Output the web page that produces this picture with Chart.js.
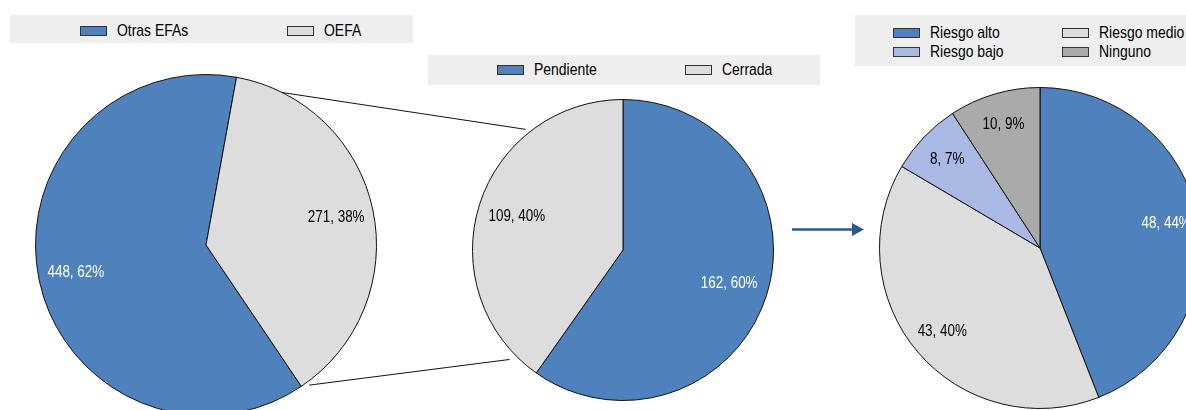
<!DOCTYPE html>
<html>
<head>
<meta charset="utf-8">
<script src="https://cdn.jsdelivr.net/npm/chart.js@4/dist/chart.umd.min.js"></script>
<style>
    body { margin: 0; width: 1186px; height: 410px; overflow: hidden; background: #fff; position: relative;
           font-family: "Liberation Sans Narrow", "Arial Narrow", "Liberation Sans", sans-serif; }
    canvas { position: absolute; }
    .legend { position: absolute; background: #eeeeee; }
    .sw { position: absolute; width: 25px; height: 8px; border: 1px solid #333; }
    .txt { position: absolute; font-size: 17px; line-height: 18px; color: #000; white-space: nowrap;
           transform: scaleX(0.82); transform-origin: left center; }
</style>
</head>
<body>
<canvas id="efaChart" width="342" height="342" style="left:35px;top:74px"></canvas>
<canvas id="oefaChart" width="302" height="302" style="left:472px;top:99px"></canvas>
<canvas id="riesgoChart" width="322" height="322" style="left:879px;top:87px"></canvas>
<canvas id="overlay" width="1186" height="410" style="left:0;top:0;pointer-events:none"></canvas>

<script>
// Data
const efaLabels = ['Otras EFAs', 'OEFA'];
const efaValues = [448, 271];
const efaPct = [62, 38];

const oefaLabels = ['Pendiente', 'Cerrada'];
const oefaValues = [162, 109];
const oefaPct = [60, 40];

const riesgoLabels = ['Riesgo alto', 'Riesgo medio', 'Riesgo bajo', 'Ninguno'];
const riesgoValues = [48, 43, 8, 10];
const riesgoPct = [44, 40, 7, 9];

const BLUE = '#4f81bd';
const LIGHT = '#dddddd';
const LIGHTBLUE = '#a9b9e3';
const DARK = '#aaaaaa';
const FONT = '"Liberation Sans Narrow", "Arial Narrow", "Liberation Sans", sans-serif';

// draws "value, pct%" inside each slice (squeezed to look like a narrow font)
const sliceLabels = {
    id: 'sliceLabels',
    afterDatasetsDraw(chart, args, opts) {
        const ctx = chart.ctx;
        const meta = chart.getDatasetMeta(0);
        const data = chart.data.datasets[0].data;
        ctx.font = '16px ' + FONT;
        ctx.textAlign = 'center';
        ctx.textBaseline = 'middle';
        meta.data.forEach((arc, i) => {
            const mid = (arc.startAngle + arc.endAngle) / 2;
            const d = arc.outerRadius * opts.radius;
            ctx.save();
            ctx.translate(arc.x + Math.cos(mid) * d, arc.y + Math.sin(mid) * d);
            ctx.scale(0.84, 1);
            ctx.fillStyle = opts.colors[i];
            ctx.fillText(data[i] + ', ' + opts.pct[i] + '%', 0, 0);
            ctx.restore();
        });
    }
};

function makePie(id, labels, values, colors, rotation, pct, textColors, radius) {
    return new Chart(document.getElementById(id), {
        type: 'pie',
        data: {
            labels: labels,
            datasets: [{
                data: values,
                backgroundColor: colors,
                borderColor: '#111',
                borderWidth: 1
            }]
        },
        options: {
            responsive: false,
            animation: false,
            rotation: rotation,
            layout: { padding: 0 },
            plugins: {
                legend: { display: false },
                tooltip: { enabled: false },
                sliceLabels: { pct: pct, colors: textColors, radius: radius }
            }
        },
        plugins: [sliceLabels]
    });
}

const efaChart = makePie('efaChart', efaLabels, efaValues, [BLUE, LIGHT], 146, efaPct, ['#fff', '#000'], 0.78);
const oefaChart = makePie('oefaChart', oefaLabels, oefaValues, [BLUE, LIGHT], 0, oefaPct, ['#fff', '#000'], 0.74);
const riesgoChart = makePie('riesgoChart', riesgoLabels, riesgoValues, [BLUE, LIGHT, LIGHTBLUE, DARK], 0, riesgoPct,
    ['#fff', '#000', '#000', '#000'], 0.8);

// legends: box [x, y, w, h], item positions [swatch x, swatch top]
function buildLegend(chart, box, spots) {
    const div = document.createElement('div');
    div.className = 'legend';
    div.style.left = box[0] + 'px';
    div.style.top = box[1] + 'px';
    div.style.width = box[2] + 'px';
    div.style.height = box[3] + 'px';
    chart.data.labels.forEach((lab, i) => {
        const sw = document.createElement('div');
        sw.className = 'sw';
        sw.style.left = (spots[i][0] - box[0]) + 'px';
        sw.style.top = (spots[i][1] - box[1]) + 'px';
        sw.style.background = chart.data.datasets[0].backgroundColor[i];
        div.appendChild(sw);
        const t = document.createElement('div');
        t.className = 'txt';
        t.textContent = lab;
        t.style.left = (spots[i][0] - box[0] + 37) + 'px';
        t.style.top = (spots[i][1] - box[1] - 4) + 'px';
        div.appendChild(t);
    });
    document.body.appendChild(div);
}

buildLegend(efaChart, [10, 15, 403, 28], [[80, 26], [287, 26]]);
buildLegend(oefaChart, [428, 55, 392, 30], [[497, 65], [685, 65]]);
buildLegend(riesgoChart, [855, 15, 331, 51], [[893, 28], [1062, 28], [893, 47], [1062, 47]]);

// connector lines between first two pies and the arrow
function edgePoint(chart, deg, k) {
    const arc = chart.getDatasetMeta(0).data[0];
    const a = (deg - 90) * Math.PI / 180;
    const r = arc.outerRadius * k;
    return [chart.canvas.offsetLeft + arc.x + Math.cos(a) * r, chart.canvas.offsetTop + arc.y + Math.sin(a) * r];
}

const ov = document.getElementById('overlay').getContext('2d');
ov.strokeStyle = '#111';
ov.lineWidth = 1;
[[26.6, 1.0, 321.1, 1.03], [143.7, 1.02, 226, 1.047]].forEach(c => {
    const p1 = edgePoint(efaChart, c[0], c[1]);
    const p2 = edgePoint(oefaChart, c[2], c[3]);
    ov.beginPath();
    ov.moveTo(p1[0], p1[1]);
    ov.lineTo(p2[0], p2[1]);
    ov.stroke();
});

ov.strokeStyle = '#2a5a8c';
ov.fillStyle = '#2a5a8c';
ov.lineWidth = 2.5;
ov.beginPath();
ov.moveTo(792, 229.5);
ov.lineTo(853, 229.5);
ov.stroke();
ov.beginPath();
ov.moveTo(852, 223);
ov.lineTo(864, 229.5);
ov.lineTo(852, 236);
ov.closePath();
ov.fill();
</script>
</body>
</html>
